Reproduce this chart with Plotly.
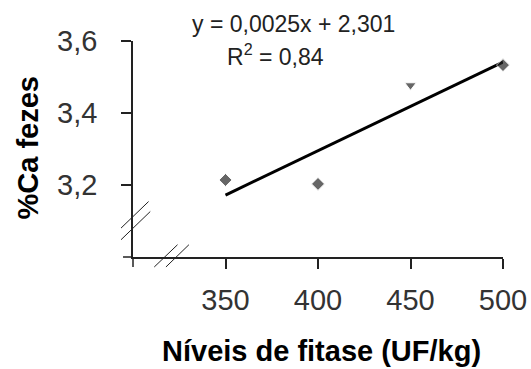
import numpy as np
import plotly.graph_objects as go

# Data
x_levels = [350, 400, 450, 500]
ca_fezes = [3.214, 3.203, 3.477, 3.533]
marker_symbols = ["diamond", "diamond", "triangle-down", "diamond"]
marker_sizes = [10, 10, 10, 10]
x_ticks = [350, 400, 450, 500]
x_ticklabels = ["350", "400", "450", "500"]
y_ticks = [3.2, 3.4, 3.6]
y_ticklabels = ["3,2", "3,4", "3,6"]
equation_text = "y = 0,0025x + 2,301"
r2_text = "R<sup>2</sup> = 0,84"

# Linear trend from the data
slope, intercept = np.polyfit(x_levels, ca_fezes, 1)
trend_x = [x_levels[0], x_levels[-1]]
trend_y = [slope * v + intercept for v in trend_x]

W, H = 531, 369
L, R, T, B = 132.7, 503.3, 40.7, 257.3
PW, PH = R - L, B - T

def px(xp):
    return (xp - L) / PW

def py(yp):
    return (B - yp) / PH

FONT = "Arial, Liberation Sans, sans-serif"

fig = go.Figure()
fig.add_trace(go.Scatter(
    x=trend_x, y=trend_y, mode="lines",
    line=dict(color="black", width=3), showlegend=False, hoverinfo="skip",
    cliponaxis=False,
))
fig.add_trace(go.Scatter(
    x=x_levels, y=ca_fezes, mode="markers",
    marker=dict(symbol=marker_symbols, size=marker_sizes, color="#262626"),
    showlegend=False, cliponaxis=False,
))

# origin cross ticks (axes extend past the corner)
fig.add_shape(type="line", xref="paper", yref="paper",
              x0=px(L - 10), y0=0, x1=0, y1=0,
              line=dict(color="#222222", width=1.5))
fig.add_shape(type="line", xref="paper", yref="paper",
              x0=0, y0=py(B + 10), x1=0, y1=0,
              line=dict(color="#222222", width=1.5))

# axis-break marks
breaks = [
    ((120.7, 228.3), (148.3, 201.7)),
    ((120.7, 240.0), (150.0, 211.7)),
    ((154.0, 267.3), (177.3, 245.0)),
    ((165.7, 267.3), (188.7, 245.0)),
]
for (x0, y0), (x1, y1) in breaks:
    fig.add_shape(type="line", xref="paper", yref="paper",
                  x0=px(x0), y0=py(y0), x1=px(x1), y1=py(y1),
                  line=dict(color="#222222", width=1))

fig.add_annotation(text=equation_text, xref="paper", yref="paper",
                   x=px(293), y=py(23.3), showarrow=False,
                   font=dict(family=FONT, size=23, color="#222222"),
                   xanchor="center", yanchor="middle")
fig.add_annotation(text=r2_text, xref="paper", yref="paper",
                   x=px(275.5), y=py(55), showarrow=False,
                   font=dict(family=FONT, size=23, color="#222222"),
                   xanchor="center", yanchor="middle")
fig.add_annotation(text="<b>Níveis de fitase (UF/kg)</b>", xref="paper", yref="paper",
                   x=px(322), y=py(352), showarrow=False,
                   font=dict(family=FONT, size=29, color="black"),
                   xanchor="center", yanchor="middle")
fig.add_annotation(text="<b>%Ca fezes</b>", xref="paper", yref="paper",
                   x=px(28), y=py(148), showarrow=False, textangle=-90,
                   font=dict(family=FONT, size=29, color="black"),
                   xanchor="center", yanchor="middle")

fig.update_layout(
    width=W, height=H,
    margin=dict(l=L, r=W - R, t=T, b=H - B, pad=0, autoexpand=False),
    paper_bgcolor="white", plot_bgcolor="white",
    xaxis=dict(range=[300, 500], tickvals=x_ticks, ticktext=x_ticklabels,
               ticks="outside", ticklen=10, tickwidth=1.5, tickcolor="#222222",
               showline=True, linecolor="#222222", linewidth=1.5,
               showgrid=False, zeroline=False, ticklabelstandoff=6,
               automargin=False,
               tickfont=dict(family=FONT, size=29, color="#333333")),
    yaxis=dict(range=[3.0, 3.6], tickvals=y_ticks, ticktext=y_ticklabels,
               ticks="outside", ticklen=10, tickwidth=1.5, tickcolor="#222222",
               showline=True, linecolor="#222222", linewidth=1.5,
               showgrid=False, zeroline=False, ticklabelstandoff=18,
               automargin=False,
               tickfont=dict(family=FONT, size=29, color="#333333")),
)

fig.write_html("out.html")
